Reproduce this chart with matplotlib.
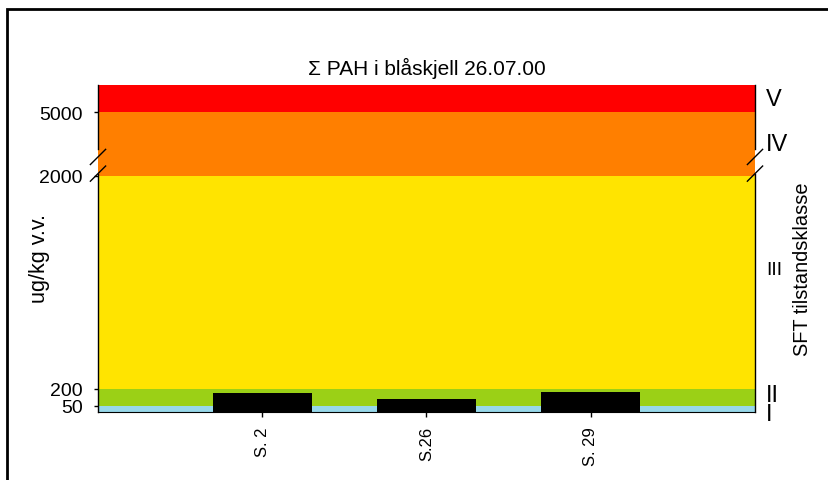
#Sum PAH in blue mussel with SFT condition classes as coloured bands
import numpy as np
from matplotlib import pyplot as plt
from matplotlib.patches import Rectangle

plt.rcParams['font.family'] = ['Liberation Sans', 'DejaVu Sans']

#Stations and measured values (ug/kg v.v.)
stations = ['S. 2', 'S.26', 'S. 29']
pah_values = [165, 112, 171]

#SFT class limits and how tall each class is drawn (broken axis)
class_limits = [0, 50, 200, 2000, 5000, 10000]
class_heights = [0, 6, 23, 236, 300, 327]
class_colors = ['#98d8ea', '#9bd016', '#ffe400', '#ff7f00', '#ff0000']
tick_values = [50, 200, 2000, 5000]


def forward(v):
    return np.interp(v, class_limits, class_heights)


def inverse(p):
    return np.interp(p, class_heights, class_limits)


fig = plt.figure(dpi=100, figsize=(8.29, 4.81))
ax = fig.add_axes([98 / 829, 68 / 481, 657 / 829, 327 / 481])
ax.set_yscale('function', functions=(forward, inverse))
ax.set_ylim(class_limits[0], class_limits[-1])
ax.set_xlim(0, len(stations) + 1)

#Coloured class bands
for i, c in enumerate(class_colors):
    ax.axhspan(class_limits[i], class_limits[i + 1], color=c, lw=0, zorder=0)

#Bars
x = np.arange(1, len(stations) + 1)
ax.bar(x, pah_values, width=0.6, color='black', zorder=2)

ax.set_xticks(x)
ax.set_xticklabels(stations, rotation=90, fontsize=12)
ax.set_yticks(tick_values)
ax.set_yticklabels([str(t) for t in tick_values], fontsize=14)
ax.tick_params(axis='x', length=3.6, width=1, pad=6.5)
ax.tick_params(axis='y', length=3, width=1, pad=8)
ax.set_ylabel('ug/kg v.v.', fontsize=15.5)
ax.yaxis.set_label_coords(-0.073, 0.471)
ax.set_title('Σ PAH i blåskjell 26.07.00', fontsize=15, pad=8)

#Spines: bottom full, sides broken between the slashes
ax.spines['top'].set_visible(False)
ax.spines['left'].set_visible(False)
ax.spines['right'].set_visible(False)
gap_lo, gap_hi = 0.729, 0.78
for xs in (0, 1):
    ax.plot([xs, xs], [0, gap_lo], color='black', lw=1, transform=ax.transAxes, clip_on=False, zorder=3)
    ax.plot([xs, xs], [gap_hi + 0.023, 1], color='black', lw=1, transform=ax.transAxes, clip_on=False, zorder=3)
    for yc in (gap_lo, gap_hi):
        ax.plot([xs - 0.0116, xs + 0.0116], [yc - 0.0232, yc + 0.0232], color='black', lw=1,
                transform=ax.transAxes, clip_on=False, zorder=3)

#Class names on the right side
ax.text(1.017, forward(7400) / 327, 'V', fontsize=17, va='center', ha='left', transform=ax.transAxes)
ax.text(1.017, forward(3500) / 327, 'IV', fontsize=17, va='center', ha='left', transform=ax.transAxes)
ax.text(1.017, forward(1214) / 327, 'III', fontsize=14, va='center', ha='left', transform=ax.transAxes)
ax.text(1.017, forward(60) / 327, 'II\nI', fontsize=17, va='center', ha='left', linespacing=0.82,
        transform=ax.transAxes)
fig.text(803 / 829, 1 - 269 / 481, 'SFT tilstandsklasse', rotation=90, fontsize=14.4,
         va='center', ha='center')

#Outer frame
fig.patches.append(Rectangle((7 / 829, -0.1), 1.2, 1 - 9.5 / 481 + 0.1, fill=False, lw=2,
                             edgecolor='black', transform=fig.transFigure, figure=fig))

plt.savefig('out.png')
